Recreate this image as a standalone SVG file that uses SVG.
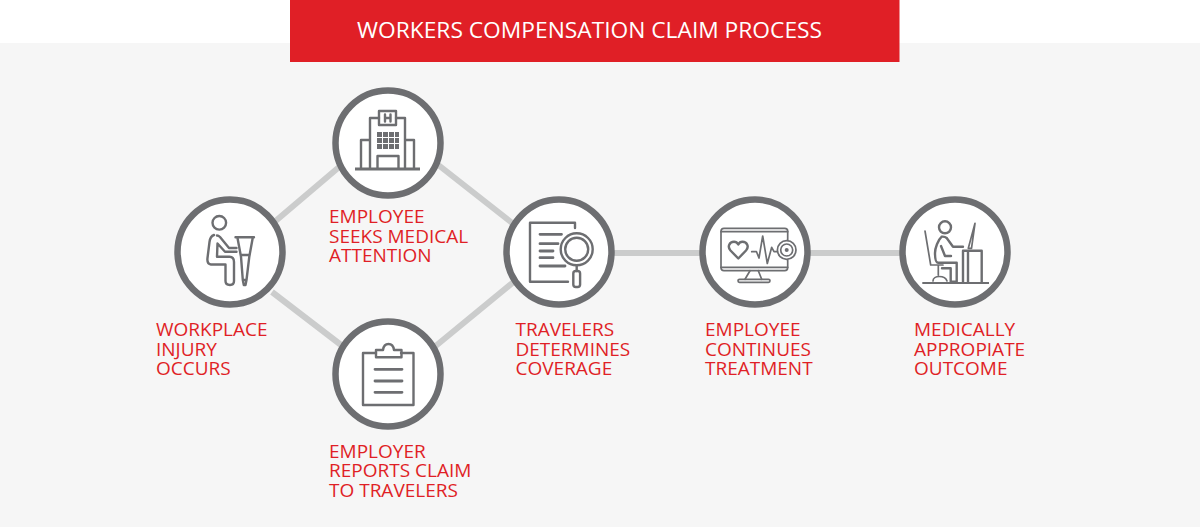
<svg xmlns="http://www.w3.org/2000/svg" width="1200" height="527" viewBox="0 0 1200 527">
<style>
.ring{fill:#fff;stroke:#6d6e71;stroke-width:6.5}
.ic{fill:none;stroke:#6d6e71;stroke-width:2.4;stroke-linejoin:round;stroke-linecap:round}
.ict{fill:none;stroke:#6d6e71;stroke-width:1.7;stroke-linejoin:round;stroke-linecap:round}
.bar{fill:none;stroke:#6d6e71;stroke-width:2.800;stroke-linecap:round}
.lbl{font-family:"Open Sans","Noto Sans",sans-serif;font-size:19px;fill:#e01f26}
.con{fill:none;stroke:#cbcccc;stroke-width:6}
</style>
<rect width="1200" height="527" fill="#fff"/>
<rect y="43" width="1200" height="484" fill="#f6f6f6"/>
<g id="title">
<rect x="290" y="0" width="609.500" height="62" fill="#e01f26"/>
<text x="357" y="38" font-family="'Open Sans','Noto Sans',sans-serif" font-size="22" fill="#fff" textLength="465" lengthAdjust="spacingAndGlyphs">WORKERS COMPENSATION CLAIM PROCESS</text>
</g>
<g id="connectors">
<path class="con" d="M272 224L345 162M432 160L516 226M272 292L345 348M432 349L516 280"/>
<path class="con" d="M559 253H955"/>
</g>
<g id="node-injury">
<circle class="ring" cx="230" cy="252" r="52.500"/>
<circle class="ic" cx="219.300" cy="222.800" r="6.800"/>
<path class="ic" d="M214 235C211 236 210 238 209.500 242L207.500 258C207 262 208 264 211 264.500H225.500V281C225.500 283.500 227 285 230 285C233 285 234 283.500 234 281V262C234 258.500 232.500 256.700 229.500 256.700H217L217.500 243.500L225 251.700H236.500M217 235.500C218 235.500 219 236 220 237L229 248H236.500"/>
<path class="ic" d="M235.500 237.300H254M237.500 238L241 256.700L242.800 280M252.700 238L249.300 256.700L246.500 280M241 255H249.500M242.800 280H246.500L245.500 285H243.800Z"/>
<text class="lbl"><tspan x="156" y="335.500">WORKPLACE</tspan><tspan x="156" y="355.500">INJURY</tspan><tspan x="156" y="375">OCCURS</tspan></text>
</g>
<g id="node-medical">
<circle class="ring" cx="388" cy="143" r="52.500"/>
<path class="ic" d="M370 168V118H379M396 118H405V168M370 140H361V168M405 140H414V168M377.500 168V156H398.500V168"/>
<rect class="ic" x="379" y="111" width="17" height="14" fill="none"/>
<path class="ic" d="M385 114.500V121.500M390.500 114.500V121.500M385 118H390.500"/>
<path d="M377 132h5v5h-5zM383 132h5v5h-5zM389 132h5v5h-5zM395 132h4v5h-4zM377 138h5v5h-5zM383 138h5v5h-5zM389 138h5v5h-5zM395 138h4v5h-4zM377 144h5v5h-5zM383 144h5v5h-5zM389 144h5v5h-5zM395 144h4v5h-4z" fill="#6d6e71"/>
<path d="M355 169H420" fill="none" stroke="#6d6e71" stroke-width="3"/>
<text class="lbl"><tspan x="329" y="222.500">EMPLOYEE</tspan><tspan x="329" y="242.500">SEEKS MEDICAL</tspan><tspan x="329" y="261.500">ATTENTION</tspan></text>
</g>
<g id="node-report">
<circle class="ring" cx="388" cy="374" r="52.500"/>
<path class="ic" d="M376 353H363V405H413.500V353H401"/>
<path class="ic" d="M376 357.300V350H383C384 342 393 342 394 350H401.500V357.300Z"/>
<path class="bar" d="M375 369.300H402M375 381H402M375 392.300H402"/>
<text class="lbl"><tspan x="329" y="457.500">EMPLOYER</tspan><tspan x="329" y="476.500">REPORTS CLAIM</tspan><tspan x="329" y="496.500">TO TRAVELERS</tspan></text>
</g>
<g id="node-coverage">
<circle class="ring" cx="559" cy="252" r="52.500"/>
<path class="ic" d="M575 228V222.700H530V281.700H568"/>
<path class="bar" d="M540 234.300H561.500M540 243.700H558M540 251H553M540 257.700H553M540 266H565"/>
<circle class="ic" cx="576.700" cy="249.300" r="16"/>
<circle class="ic" cx="576.700" cy="249.300" r="11.500"/>
<path class="ic" d="M576.700 265.500V271"/>
<rect class="ic" x="573.300" y="271" width="6.800" height="16" rx="2.500"/>
<text class="lbl"><tspan x="515.500" y="335.500">TRAVELERS</tspan><tspan x="515.500" y="355.500">DETERMINES</tspan><tspan x="515.500" y="375">COVERAGE</tspan></text>
</g>
<g id="node-treatment">
<circle class="ring" cx="755" cy="252" r="52.500"/>
<path class="ict" d="M787.700 240V231C787.700 229 786 228.300 784.700 228.300H724C722 228.300 721 229.500 721 231.500V267.500C721 269.500 722 270.700 724 270.700H784.700C786.500 270.700 787.700 269.500 787.700 267.500V260"/>
<path class="ict" d="M721 231.700H787.700M721 267.300H787.700M750 270.700L745 279.300M758.300 270.700L761.700 279.300"/>
<rect class="ict" x="738" y="279.300" width="32" height="3" rx="1.500"/>
<path class="ic" d="M738.300 258.500L730.500 250.500C727 246.500 729.500 241.800 734 241.800C736 241.800 737.500 243 738.300 244.500C739 243 740.500 241.800 742.500 241.800C747 241.800 749.500 246.500 746 250.500Z"/>
<path class="ict" d="M751.700 251.700H756.500L759 258L762.700 236L767.300 263.500L771.700 247.300L774 251.700H777.300"/>
<circle class="ict" cx="786.700" cy="250" r="9.300"/>
<circle class="ict" cx="786.700" cy="250" r="6"/>
<circle cx="786.700" cy="250" r="2" fill="#6d6e71"/>
<text class="lbl"><tspan x="705" y="335.500">EMPLOYEE</tspan><tspan x="705" y="355.500">CONTINUES</tspan><tspan x="705" y="375">TREATMENT</tspan></text>
</g>
<g id="node-outcome">
<circle class="ring" cx="955" cy="252" r="52.500"/>
<circle class="ic" cx="945" cy="227.300" r="6"/>
<path class="ict" d="M925 231L930.700 265H943M938.300 265V275M933 281C933 275 945 275 947 281"/>
<path class="ic" d="M941.700 236.700C938 240 935 248 935 253C935 258 935.500 262.700 938 262.700H956.700V281.700H950.700V268.300H942M941.700 236.700C943.500 236.500 945.500 237 946.700 238L953 246.700H963M941 246L945 256H951"/>
<path class="ic" d="M963 282.700V250.700H981.700V282.700M968 250.700V282.700"/>
<path class="ict" d="M968.300 248.300L975 223.300L971.500 248.300ZM975 223.300"/>
<path d="M922.300 283H989" fill="none" stroke="#6d6e71" stroke-width="2.200"/>
<text class="lbl"><tspan x="914" y="335.500">MEDICALLY</tspan><tspan x="914" y="355.500">APPROPIATE</tspan><tspan x="914" y="375">OUTCOME</tspan></text>
</g>
</svg>
